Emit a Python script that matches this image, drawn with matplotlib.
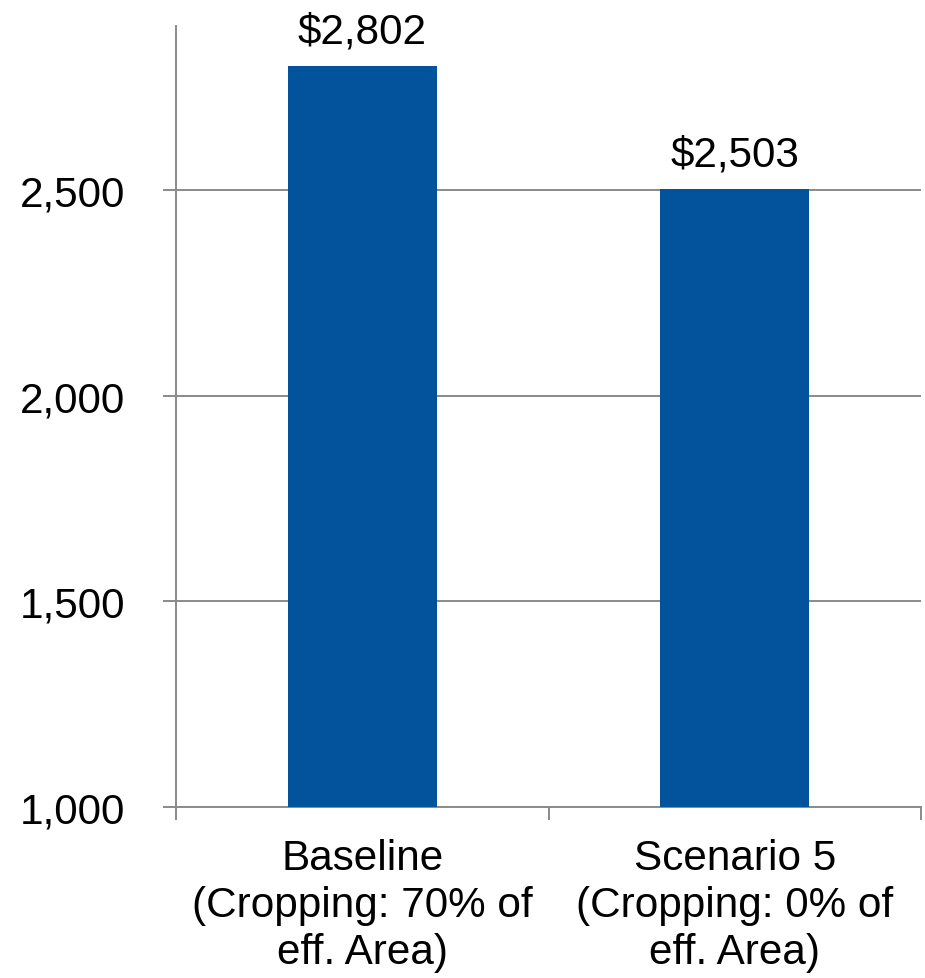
import numpy as np
import matplotlib
matplotlib.use('Agg')
import matplotlib.pyplot as plt
from matplotlib.ticker import FuncFormatter

#%% Data

scenarios = ['Baseline\n(Cropping: 70% of\neff. Area)',
             'Scenario 5\n(Cropping: 0% of\neff. Area)']
cost = [2802, 2503]
yticks = [1000, 1500, 2000, 2500]

#%% Plot settings

plt.rcParams['font.family'] = ['Liberation Sans', 'DejaVu Sans']
fs = 30.4
bar_color = '#02539C'
grey = '#8a8a8a'

fig = plt.figure(figsize=(9.25, 9.79), dpi=100)
ax = fig.add_axes([176/925, 1 - 808/979, (921 - 176)/925, (808 - 27)/979])

x = np.arange(len(scenarios))
ax.bar(x, cost, width=0.4, color=bar_color, zorder=3)

for xi, v in zip(x, cost):
    ax.annotate('${:,}'.format(v), (xi, v), xytext=(0, 10.5),
                textcoords='offset points', ha='center', va='bottom',
                fontsize=fs, color='k')

ax.set_xlim(-0.5, len(scenarios) - 0.5)
ax.set_ylim(1000, 2900)

# y axis
ax.set_yticks(yticks)
ax.yaxis.set_major_formatter(FuncFormatter(lambda v, p: '{:,.0f}'.format(v)))
ax.tick_params(axis='y', length=9.5, width=1.4, color=grey, pad=27,
               labelsize=fs, direction='out')
ax.grid(axis='y', color=grey, linewidth=1.4, zorder=0)

# x axis: labels at categories, tick marks between them
ax.set_xticks(x)
ax.set_xticklabels(scenarios, fontsize=fs, linespacing=1.22)
ax.set_xticks(np.arange(len(scenarios) + 1) - 0.5, minor=True)
ax.tick_params(axis='x', which='major', length=0, pad=22.5)
ax.tick_params(axis='x', which='minor', length=9.5, width=1.4, color=grey,
               direction='out')

for side in ['top', 'right']:
    ax.spines[side].set_visible(False)
for side in ['left', 'bottom']:
    ax.spines[side].set_color(grey)
    ax.spines[side].set_linewidth(1.4)

plt.savefig('out.png', dpi=100)
